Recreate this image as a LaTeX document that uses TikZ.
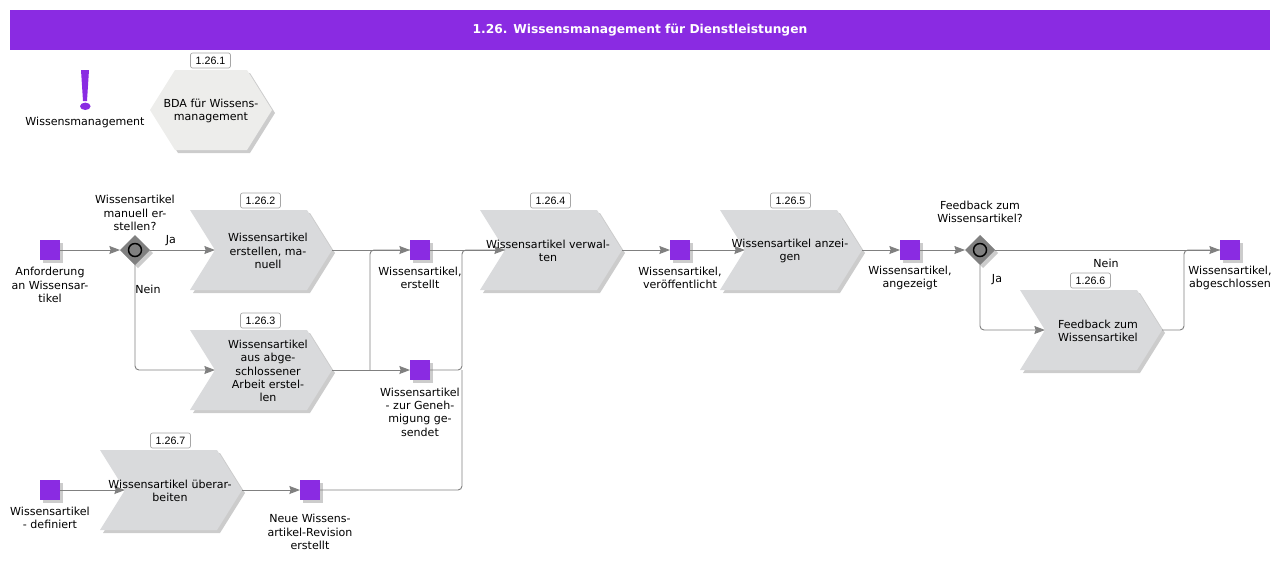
\documentclass[tikz,border=0pt]{standalone}
\usepackage{fontspec}
\setmainfont{DejaVu Sans}
\newfontfamily\badgefont{Liberation Sans}
\usetikzlibrary{arrows.meta,positioning,shapes.geometric,shapes.symbols,shadows}
\definecolor{purp}{HTML}{8A2BE2}
\definecolor{chevgray}{HTML}{D9DADC}
\definecolor{hexgray}{HTML}{EDEDEB}
\definecolor{linegray}{HTML}{808080}
\newcommand{\px}{0.75pt}
\tikzset{
  shade3/.style={drop shadow={shadow xshift=3*\px,shadow yshift=-3*\px,opacity=.4,fill=gray}},
  evt/.style={draw=none,fill=purp,minimum size=20*\px,inner sep=0pt,outer sep=0pt,shade3},
  gate/.style={diamond,fill=linegray,minimum width=30*\px,minimum height=30*\px,inner sep=0pt,outer sep=0pt,shade3},
  gatering/.style={circle,draw=black,line width=1.1pt,fill=linegray,minimum size=13*\px,inner sep=0pt},
  chev/.style={signal,signal to=east,signal from=west,signal pointer angle=116,fill=chevgray,
    minimum width=142*\px,minimum height=80*\px,inner sep=0pt,outer sep=0pt,shade3},
  hexa/.style={signal,signal to=east and west,signal pointer angle=116,fill=hexgray,
    minimum width=122*\px,minimum height=80*\px,inner sep=0pt,outer sep=0pt,shade3},
  txt/.style={align=center,font=\fontsize{8.3}{10}\selectfont,inner sep=0pt,yshift=-1*\px},
  badge/.style={draw=gray!70,fill=white,rounded corners=1.5pt,minimum width=40*\px,minimum height=15*\px,
    inner sep=0pt,line width=.5pt,font=\badgefont\fontsize{8}{9}\selectfont},
  conn/.style={draw=linegray,line width=.7pt,rounded corners=3pt},
  flow/.style={conn,-{Stealth[length=8pt,width=6pt,inset=1pt]}}
}
\begin{document}
\begin{tikzpicture}[x=\px,y=-\px,on grid,node distance=85*\px]
    \useasboundingbox (0,0) rectangle (1284,569);
    \node[fill=purp,minimum width=1260*\px,minimum height=40*\px,inner sep=0pt,text=white,
        font=\bfseries\fontsize{9.2}{11}\selectfont] (title) at (640,30) {\raisebox{-1.5pt}{1.26. Wissensmanagement für Dienstleistungen}};
    % upper row
    \fill[purp] (81,70) -- (89,70) -- (87,101) -- (83,101) -- cycle (85.3,106.3) ellipse [x radius=5.3,y radius=3.7];
    \node[txt] (warn) at (85,121) {Wissensmanagement};
    \node[hexa] (h1) at (211,110) {};
    \node[txt] (h1t) at (211,110) {BDA für Wissens-\\management};
    \node[badge] (b1) at (210.5,60.5) {1.26.1};
    % main row
    \node[evt] (s1) at (50,250) {};
    \node[gate,right=85*\px of s1] (gw1) {};
    \node[gatering] (gw1r) at (gw1) {};
    \node[chev,right=126*\px of gw1] (a2) {};
    \node[evt,right=159*\px of a2] (s2) {};
    \node[chev,right=131*\px of s2] (a4) {};
    \node[evt,right=129*\px of a4] (s6) {};
    \node[chev,right=111*\px of s6] (a5) {};
    \node[evt,right=119*\px of a5] (s7) {};
    \node[gate,right=70*\px of s7] (gw2) {};
    \node[gatering] (gw2r) at (gw2) {};
    \node[evt,right=250*\px of gw2] (s8) {};
    % lower nodes
    \node[chev,below=120*\px of a2] (a3) {};
    \node[evt,below=120*\px of s2] (s3) {};
    \node[chev] (a6) at (1091,330) {};
    \node[evt] (s4) at (50,490) {};
    \node[chev,right=121*\px of s4] (a7) {};
    \node[evt,right=139*\px of a7] (s5) {};
    % badges
    \node[badge] (b2) at (260.5,200.5) {1.26.2};
    \node[badge] (b3) at (260.5,320.5) {1.26.3};
    \node[badge] (b4) at (550.5,200.5) {1.26.4};
    \node[badge] (b5) at (790.5,200.5) {1.26.5};
    \node[badge] (b6) at (1090.5,280.5) {1.26.6};
    \node[badge] (b7) at (170.5,440.5) {1.26.7};
    % connectors
    \coordinate[right=38*\px of a3.east] (j1);
    \coordinate[right=32*\px of s3.east] (j2);
    \coordinate[right=22*\px of a6.east] (j3);
    \path[flow] (s1) -- (gw1.west);
    \path[flow] (gw1.east) -- (a2.west);
    \path[flow] (gw1.south) |- (a3.west);
    \path[conn] (j1) |- (s2.west);
    \path[flow] (a2.east) -- (s2.west);
    \path[flow] (a3.east) -- (s3.west);
    \path[flow] (s2.east) -- (a4.west);
    \path[conn] (s3.east) -- (j2) |- (a4.west);
    \path[conn] (s5.east) -| (j2);
    \path[flow] (a4.east) -- (s6.west);
    \path[flow] (s6.east) -- (a5.west);
    \path[flow] (a5.east) -- (s7.west);
    \path[flow] (s7.east) -- (gw2.west);
    \path[flow] (gw2.east) -- (s8.west);
    \path[flow] (gw2.south) |- (a6.west);
    \path[conn] (a6.east) -- (j3) |- (s8.west);
    \path[flow] (s4.east) -- (a7.west);
    \path[flow] (a7.east) -- (s5.west);
    % texts
    \node[txt] (s1t) at (50,284) {Anforderung\\an Wissensar-\\tikel};
    \node[txt] (gw1t) at (135,212) {Wissensartikel\\manuell er-\\stellen?};
    \node[txt] (ja1) at (171,240) {Ja};
    \node[txt] (nein1) at (148,288) {Nein};
    \node[txt] (a2t) at (268,250) {Wissensartikel\\erstellen, ma-\\nuell};
    \node[txt] (a3t) at (268,370) {Wissensartikel\\aus abge-\\schlossener\\Arbeit erstel-\\len};
    \node[txt] (s2t) at (420,277) {Wissensartikel,\\erstellt};
    \node[txt] (s3t) at (420,411) {Wissensartikel\\- zur Geneh-\\migung ge-\\sendet};
    \node[txt] (a4t) at (548,250) {Wissensartikel verwal-\\ten};
    \node[txt] (s6t) at (680,277) {Wissensartikel,\\veröffentlicht};
    \node[txt] (a5t) at (790,250) {Wissensartikel anzei-\\gen};
    \node[txt] (s7t) at (910,277) {Wissensartikel,\\angezeigt};
    \node[txt] (gw2t) at (980,211) {Feedback zum\\Wissensartikel?};
    \node[txt] (ja2) at (997,279) {Ja};
    \node[txt] (nein2) at (1106,262) {Nein};
    \node[txt] (a6t) at (1098,330) {Feedback zum\\Wissensartikel};
    \node[txt] (s8t) at (1230,277) {Wissensartikel,\\abgeschlossen};
    \node[txt] (s4t) at (50,517) {Wissensartikel\\- definiert};
    \node[txt] (a7t) at (170,490) {Wissensartikel überar-\\beiten};
    \node[txt] (s5t) at (310,531) {Neue Wissens-\\artikel-Revision\\erstellt};
\end{tikzpicture}
\end{document}
